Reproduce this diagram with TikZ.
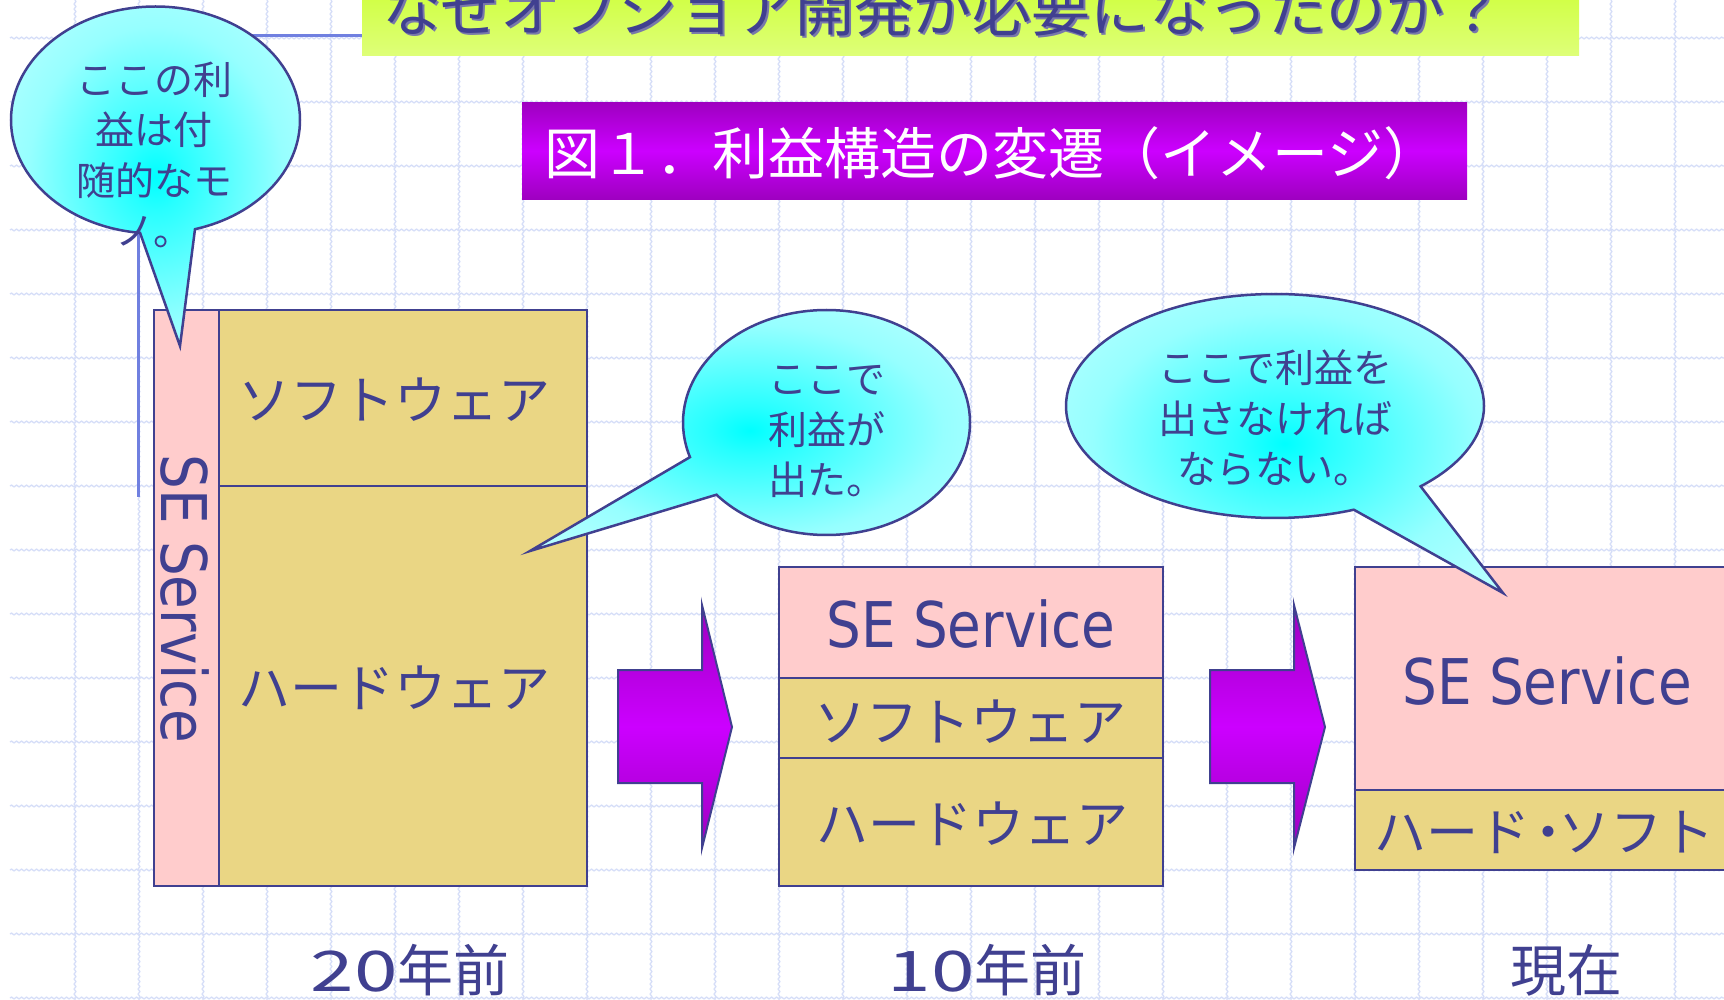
\documentclass[tikz,border=0pt]{standalone}
\usepackage{fontspec}
\usepackage{graphicx}
\usetikzlibrary{shapes.callouts,decorations.pathmorphing}
\newfontfamily\jpf{Noto Sans CJK JP}
\newfontfamily\latf{DejaVu Sans}
\definecolor{tblue}{RGB}{64,64,144}
\definecolor{tshadow}{RGB}{120,120,170}
\definecolor{pinkc}{RGB}{255,204,204}
\definecolor{yelc}{RGB}{234,214,132}
\definecolor{gridc}{RGB}{214,222,248}
\definecolor{tmpl}{RGB}{112,128,224}
\definecolor{purD}{RGB}{158,0,192}
\definecolor{purM}{RGB}{204,0,255}
\definecolor{grnT}{RGB}{204,255,51}
\definecolor{grnB}{RGB}{222,255,120}
\definecolor{cyA}{RGB}{0,255,255}
\definecolor{cyB}{RGB}{40,255,255}
\definecolor{cyC}{RGB}{150,255,255}
\definecolor{cyD}{RGB}{198,255,255}
\definecolor{cyE}{RGB}{206,255,255}
\pgfdeclareradialshading{bubshade}{\pgfpoint{0bp}{0bp}}{color(0bp)=(cyA); color(5bp)=(cyB); color(22bp)=(cyC); color(38bp)=(cyD); color(50bp)=(cyE)}
\tikzset{
  boxn/.style={draw=tblue, line width=2.8pt, inner sep=0pt, outer sep=0pt, anchor=north west},
  jt/.style={text=tblue, font=\jpf\fontsize{52}{52}\selectfont, inner sep=0pt},
  lbl/.style={text=tblue, font=\jpf\fontsize{56}{56}\selectfont, inner sep=0pt},
  setx/.style={text=tblue, font=\latf\fontsize{63}{63}\selectfont, inner sep=0pt},
  bub/.style={ellipse callout, draw=tblue, line width=2.5pt, shade, shading=bubshade, callout pointer arc=22, inner sep=0pt, outer sep=0pt},
  btext/.style={text=tblue, font=\jpf\fontsize{39}{50.5}\selectfont, align=center, inner sep=0pt},
  barrow/.style={draw=tblue, line width=2pt, top color=purD, bottom color=purD, middle color=purM},
  gridline/.style={draw=gridc, line width=1.3pt, decorate, decoration={snake, amplitude=0.9pt, segment length=5pt}},
  ttl/.style={font=\jpf\fontsize{59}{59}\selectfont, inner sep=0pt}
}
\begin{document}
\begin{tikzpicture}[x=1pt, y=-1pt]
\useasboundingbox (0,0) rectangle (1724,1000);
\clip (0,0) rectangle (1724,1000);
\fill[white] (0,0) rectangle (1724,1000);
% background grid
\foreach \k in {0,...,15} { \draw[gridline] (10,38+64*\k) -- (1724,38+64*\k); }
\foreach \k in {1,...,26} { \draw[gridline] (11+64*\k,0) -- (11+64*\k,1000); }
% template line
\draw[tmpl, line width=3pt] (362,36) -- (138,36) -- (138,497);
% title
\node[anchor=north west, minimum width=1217pt, minimum height=80pt, inner sep=0pt, top color=grnT, bottom color=grnB] (titlebox) at (362,-25) {};
\node[ttl, text=tshadow] (titleshadow) at (945,11) {なぜオフショア開発が必要になったのか？};
\node[ttl, text=tblue] (titletxt) at (943,9) {なぜオフショア開発が必要になったのか？};
% figure caption
\node[anchor=north west, minimum width=945pt, minimum height=97pt, inner sep=0pt, top color=purD, bottom color=purD, middle color=purM] (capbox) at (522,102) {};
\node[text=white, font=\jpf\fontsize{56}{56}\selectfont, inner sep=0pt] (captxt) at (992,153) {図１．利益構造の変遷（イメージ）};
% 20 years ago
\node[boxn, fill=pinkc, minimum width=65pt, minimum height=576pt] (se20) at (154,310) {};
\node[boxn, fill=yelc, minimum width=368pt, minimum height=176pt] (sw20) at (219,310) {};
\node[boxn, fill=yelc, minimum width=368pt, minimum height=400pt] (hw20) at (219,486) {};
\node[setx, rotate=-90] (se20t) at (184.5,599) {\scalebox{0.87}[1]{SE Service}};
\node[jt] (sw20t) at (394,400) {ソフトウェア};
\node[jt] (hw20t) at (394,688) {ハードウェア};
% 10 years ago
\node[boxn, fill=pinkc, minimum width=384pt, minimum height=111pt] (se10) at (779,567) {};
\node[boxn, fill=yelc, minimum width=384pt, minimum height=80pt] (sw10) at (779,678) {};
\node[boxn, fill=yelc, minimum width=384pt, minimum height=128pt] (hw10) at (779,758) {};
\node[setx] (se10t) at (971,624) {\scalebox{0.87}[1]{SE Service}};
\node[jt] (sw10t) at (970,722) {ソフトウェア};
\node[jt] (hw10t) at (972,824) {ハードウェア};
% now
\node[boxn, fill=pinkc, minimum width=420pt, minimum height=223pt] (senow) at (1355,567) {};
\node[boxn, fill=yelc, minimum width=420pt, minimum height=80pt] (hsnow) at (1355,790) {};
\node[setx] (senowt) at (1547,681) {\scalebox{0.87}[1]{SE Service}};
\node[jt, anchor=west] (hsnowt) at (1374,832) {ハード\hspace{-8pt}・\hspace{-16pt}ソフト};
% arrows
\draw[barrow] (618,670) -- (702,670) -- (702,605) -- (732,727) -- (702,848) -- (702,783) -- (618,783) -- cycle;
\draw[barrow] (1210,670) -- (1294,670) -- (1294,605) -- (1325,727) -- (1294,848) -- (1294,783) -- (1210,783) -- cycle;
% callouts
\node[bub, minimum width=289pt, minimum height=227pt, callout absolute pointer={(180,346)}] (b1) at (155.5,120) {};
\node[btext] (b1t) at (154,155) {ここの利\\益は付\\随的なモ\\ノ。};
\node[bub, minimum width=287pt, minimum height=225pt, callout absolute pointer={(530,551)}] (b2) at (826.5,422.5) {};
\node[btext] (b2t) at (827,431.5) {ここで\\利益が\\出た。};
\node[bub, minimum width=418pt, minimum height=224pt, callout absolute pointer={(1503,593)}] (b3) at (1275,406) {};
\node[btext] (b3t) at (1275,418) {ここで利益を\\出さなければ\\ならない。};
% bottom labels
\node[lbl] (l20) at (410,970) {\scalebox{1.4}[1]{20}年前};
\node[lbl] (l10) at (987,970) {\scalebox{1.4}[1]{10}年前};
\node[lbl] (lnow) at (1566,970) {現在};
\end{tikzpicture}
\end{document}
